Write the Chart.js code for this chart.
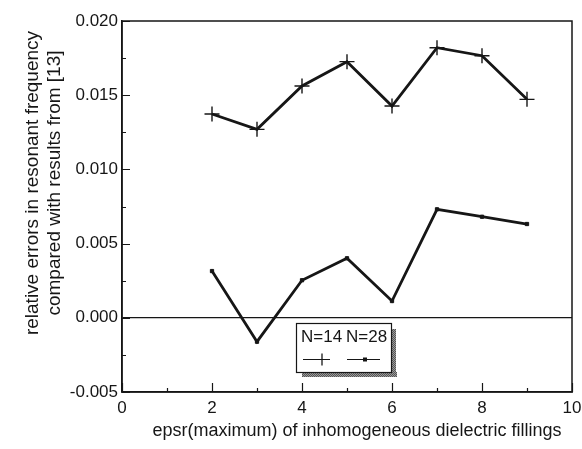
<!DOCTYPE html>
<html>
<head>
<meta charset="utf-8">
<script src="https://cdn.jsdelivr.net/npm/chart.js@4/dist/chart.umd.min.js"></script>
<style>
  html, body { margin: 0; padding: 0; background: #fff; }
  #wrap { width: 582px; height: 449px; position: relative; }
</style>
</head>
<body>
<div id="wrap"><canvas id="chart"></canvas></div>
<script>
/* ── data ── */
const epsr   = [2, 3, 4, 5, 6, 7, 8, 9];
const errN14 = [0.01373, 0.01270, 0.01562, 0.01726, 0.01427, 0.01820, 0.01766, 0.01472];
const errN28 = [0.00315, -0.00161, 0.00253, 0.00401, 0.00113, 0.00731, 0.00681, 0.00632];

const seriesNames = ['N=14', 'N=28'];
const xTitle = 'epsr(maximum) of inhomogeneous dielectric fillings';
const yTitle = ['relative errors in resonant frequency', 'compared with results from [13]'];

const X_MIN = 0, X_MAX = 10, X_STEP = 2, X_MINOR = 1;
const Y_MIN = -0.005, Y_MAX = 0.020, Y_STEP = 0.005, Y_MINOR = 0.0025;

const INK  = '#161616';
const FONT = "'Liberation Sans', Arial, sans-serif";

Chart.defaults.font.family = FONT;
Chart.defaults.font.size   = 17;
Chart.defaults.color       = INK;

/* ── frame, inward ticks, axis titles, boxed legend ── */
const decor = {
  id: 'decor',
  afterDraw(chart) {
    const { ctx, chartArea: a, scales: { x, y } } = chart;
    ctx.save();
    ctx.strokeStyle = INK;
    ctx.lineWidth = 1.5;
    ctx.strokeRect(a.left, a.top, a.right - a.left, a.bottom - a.top);

    // inward ticks
    ctx.lineWidth = 1.2;
    ctx.beginPath();
    for (let v = X_MIN; v <= X_MAX + 1e-9; v += X_MINOR) {
      const px = Math.round(x.getPixelForValue(v)) + 0.5;
      const len = (Math.round(v) % X_STEP === 0) ? 9 : 4;
      ctx.moveTo(px, a.bottom); ctx.lineTo(px, a.bottom - len);
    }
    for (let i = 0; Y_MIN + i * Y_MINOR <= Y_MAX + 1e-9; i++) {
      const v = Y_MIN + i * Y_MINOR;
      const py = Math.round(y.getPixelForValue(v)) + 0.5;
      const len = (i % 2 === 0) ? 8 : 4;
      ctx.moveTo(a.left, py); ctx.lineTo(a.left + len, py);
    }
    ctx.stroke();

    // x title (sits a little right of centre in the original)
    ctx.fillStyle = INK;
    ctx.textAlign = 'center';
    ctx.textBaseline = 'middle';
    ctx.font = `18px ${FONT}`;
    ctx.fillText(xTitle, 357, 431);

    // y title, two lines
    ctx.font = `19px ${FONT}`;
    ctx.translate(33, 183);
    ctx.rotate(-Math.PI / 2);
    ctx.fillText(yTitle[0], 0, 0);
    ctx.fillText(yTitle[1], 0, 22);
    ctx.restore();

    // legend box with hatched shadow
    ctx.save();
    const bx = 296, by = 323, bw = 95, bh = 49;
    const pat = document.createElement('canvas');
    pat.width = 2; pat.height = 2;
    const pc = pat.getContext('2d');
    pc.fillStyle = '#9a9a9a'; pc.fillRect(0, 0, 2, 2);
    pc.fillStyle = '#555'; pc.fillRect(0, 0, 1, 1); pc.fillRect(1, 1, 1, 1);
    ctx.fillStyle = ctx.createPattern(pat, 'repeat');
    ctx.fillRect(bx + 6, by + bh, bw, 5);
    ctx.fillRect(bx + bw, by + 6, 5, bh - 1);
    ctx.fillStyle = '#fff';
    ctx.fillRect(bx, by, bw, bh);
    ctx.strokeStyle = INK;
    ctx.lineWidth = 1.2;
    ctx.strokeRect(bx + 0.5, by + 0.5, bw, bh);

    ctx.fillStyle = INK;
    ctx.font = `17px ${FONT}`;
    ctx.textAlign = 'left';
    ctx.textBaseline = 'alphabetic';
    ctx.fillText(seriesNames[0], bx + 5, by + 19);
    ctx.fillText(seriesNames[1], bx + 50, by + 19);

    const ly = by + 36.5;
    ctx.lineWidth = 1;
    ctx.beginPath();
    ctx.moveTo(bx + 7, ly); ctx.lineTo(bx + 34, ly);
    ctx.moveTo(bx + 51, ly); ctx.lineTo(bx + 84, ly);
    ctx.stroke();
    ctx.lineWidth = 1.3;
    ctx.beginPath();
    ctx.moveTo(bx + 26, ly - 6); ctx.lineTo(bx + 26, ly + 6);
    ctx.stroke();
    ctx.fillRect(bx + 67, ly - 2, 4, 4);
    ctx.restore();
  }
};

const toPoints = (xs, ys) => xs.map((v, i) => ({ x: v, y: ys[i] }));

new Chart(document.getElementById('chart'), {
  type: 'line',
  data: {
    datasets: [
      {
        label: seriesNames[0],
        data: toPoints(epsr, errN14),
        borderColor: INK, backgroundColor: INK,
        borderWidth: 2.8,
        pointStyle: 'cross', pointRadius: 7.5, pointBorderWidth: 1.4,
        tension: 0,
      },
      {
        label: seriesNames[1],
        data: toPoints(epsr, errN28),
        borderColor: INK, backgroundColor: INK,
        borderWidth: 2.8,
        pointStyle: 'rect', pointRadius: 2.3, pointBorderWidth: 1,
        tension: 0,
      },
    ],
  },
  options: {
    responsive: true, maintainAspectRatio: false, animation: false,
    layout: { padding: { left: 0, right: 10, top: 21, bottom: 0 } },
    plugins: { legend: { display: false }, tooltip: { enabled: false } },
    scales: {
      x: {
        type: 'linear', min: X_MIN, max: X_MAX,
        ticks: { stepSize: X_STEP, padding: 6, color: INK, maxRotation: 0 },
        grid: { drawOnChartArea: false, drawTicks: false },
        border: { color: INK, width: 1.5 },
        afterFit: s => { s.height = 57; s.paddingLeft = 0; s.paddingRight = 0; },
      },
      y: {
        min: Y_MIN, max: Y_MAX,
        ticks: { stepSize: Y_STEP, padding: 4, color: INK, callback: v => v.toFixed(3) },
        grid: {
          drawTicks: false,
          color: c => (c.tick && Math.abs(c.tick.value) < 1e-9) ? INK : 'rgba(0,0,0,0)',
          lineWidth: 1.2,
        },
        border: { color: INK, width: 1.5 },
        afterFit: s => { s.width = 122; s.paddingTop = 0; s.paddingBottom = 0; },
      },
    },
  },
  plugins: [decor],
});
</script>
</body>
</html>
